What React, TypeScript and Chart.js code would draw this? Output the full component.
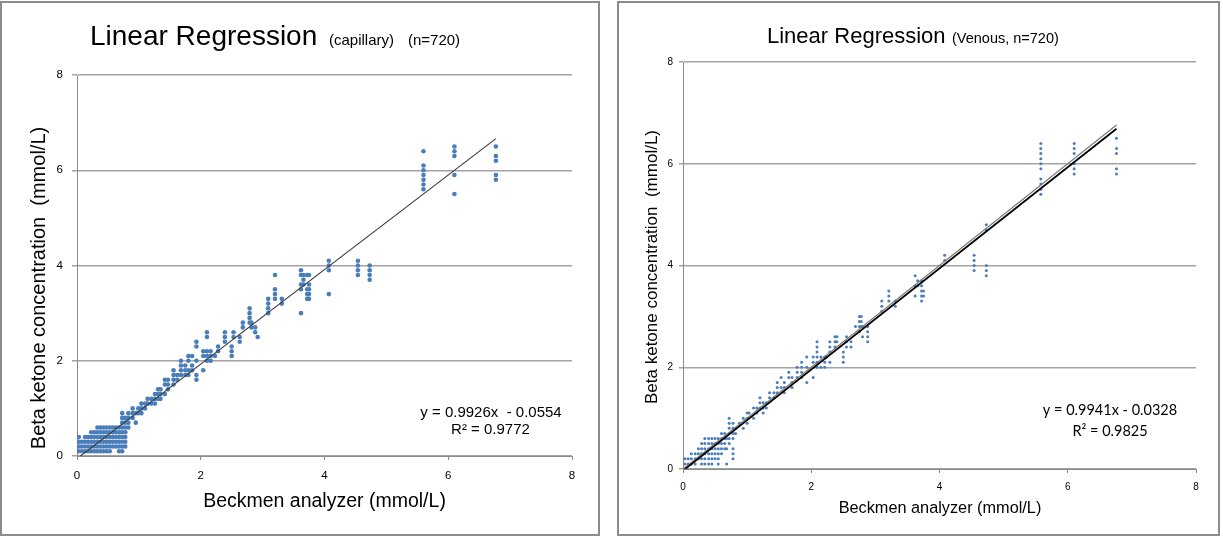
import React, { useEffect, useRef } from 'react';
import { Chart, registerables } from 'chart.js';

Chart.register(...registerables);

// ---------- Capillary panel data ----------
const capillaryX = [
  0.03, 0.08, 0.13, 0.18, 0.23, 0.28, 0.33, 0.38, 0.43, 0.48, 0.53, 0.58, 0.63, 0.68, 0.73, 0.78,
  0.83, 0.9, 0.95, 0.99, 1.04, 1.1, 1.14, 1.2, 1.26, 1.31, 1.35, 1.42, 1.47, 1.56, 1.62, 1.68,
  1.75, 1.8, 1.86, 1.93, 2.04, 2.1, 2.16, 2.23, 2.28, 2.39, 2.5, 2.53, 2.63, 2.68, 2.79, 2.82,
  2.88, 2.92, 3.09, 3.2, 3.31, 3.62, 3.66, 3.72, 3.75, 4.07, 4.54, 4.73, 5.6, 6.1, 6.77,
];
const capillaryY = [
  [0.4, 0.3, 0.2, 0.1], [0.3, 0.2, 0.1], [0.4, 0.3, 0.2, 0.1], [0.4, 0.3, 0.2, 0.1],
  [0.5, 0.4, 0.3, 0.2, 0.1], [0.5, 0.4, 0.3, 0.2, 0.1], [0.6, 0.5, 0.4, 0.3, 0.2, 0.1],
  [0.6, 0.5, 0.4, 0.3, 0.2, 0.1], [0.6, 0.5, 0.4, 0.3, 0.2, 0.1], [0.6, 0.5, 0.4, 0.3, 0.2, 0.1],
  [0.6, 0.5, 0.4, 0.3, 0.2, 0.1], [0.6, 0.5, 0.4, 0.3, 0.2], [0.6, 0.5, 0.4, 0.3, 0.2],
  [0.6, 0.5, 0.4, 0.3, 0.2, 0.1], [0.9, 0.8, 0.7, 0.6, 0.5, 0.4, 0.3, 0.2, 0.1],
  [0.8, 0.7, 0.6, 0.5, 0.4, 0.3, 0.2],
  [0.9, 0.8, 0.7, 0.6], [1.0, 0.9, 0.8], [0.9, 0.7], [1.0, 0.9], [1.1, 1.0, 0.9], [1.1, 1.0],
  [1.2, 1.1], [1.2, 1.1], [1.3, 1.2, 1.1], [1.4, 1.3, 1.2], [1.4, 1.3, 1.2], [1.6, 1.5, 1.3],
  [1.6, 1.5, 1.4], [1.8, 1.7, 1.6, 1.5], [1.7, 1.6], [2.0, 1.9, 1.8, 1.7],
  [1.9, 1.8, 1.7], [2.1, 2.0, 1.8, 1.7], [2.1, 1.9, 1.8], [2.4, 2.3, 2.0, 1.7, 1.6],
  [2.2, 2.1, 1.8], [2.6, 2.5, 2.2, 2.1, 2.0], [2.2, 2.1, 2.0], [2.1], [2.3, 2.2],
  [2.6, 2.5, 2.4], [2.3, 2.2, 2.1], [2.6, 2.5], [2.5, 2.4], [2.8, 2.7], [3.1, 3.0, 2.9, 2.8],
  [2.8, 2.7], [2.7, 2.6], [2.5], [3.3, 3.2, 3.1, 3.0], [3.8, 3.5, 3.4, 3.3], [3.3, 3.2],
  [3.9, 3.8, 3.6, 3.5, 3.0], [3.8, 3.7, 3.6], [3.8, 3.5, 3.4, 3.3], [3.8, 3.6, 3.5, 3.4, 3.3],
  [4.1, 4.0, 3.9, 3.4], [4.1, 4.0, 3.9, 3.8], [4.0, 3.9, 3.8, 3.7],
  [6.4, 6.1, 6.0, 5.9, 5.8, 5.7, 5.6], [6.5, 6.4, 6.3, 5.9, 5.5], [6.5, 6.3, 6.2, 5.9, 5.8],
];
const capillarySlope = 0.9926;
const capillaryIntercept = -0.0554;

// ---------- Venous panel data ----------
const venousX = [
  0.03, 0.08, 0.13, 0.19, 0.24, 0.29, 0.34, 0.4, 0.45, 0.5, 0.55, 0.6, 0.65, 0.68, 0.72, 0.78,
  0.82, 0.88, 0.94, 1.0, 1.03, 1.1, 1.15, 1.2, 1.25, 1.3, 1.35, 1.42, 1.47, 1.53, 1.58, 1.65,
  1.7, 1.78, 1.85, 1.93, 2.03, 2.09, 2.15, 2.21, 2.24, 2.29, 2.37, 2.4, 2.5, 2.55, 2.62, 2.69,
  2.75, 2.78, 2.8, 2.88, 3.1, 3.21, 3.31, 3.62, 3.66, 3.72, 3.75, 4.08, 4.54, 4.73, 5.58, 6.1, 6.76,
];
const venousY = [
  [0.2, 0.1], [0.2, 0.1], [0.3, 0.2, 0.1], [0.3, 0.2, 0.1], [0.4, 0.3, 0.2],
  [0.5, 0.4, 0.3, 0.2, 0.1], [0.6, 0.5, 0.4, 0.3, 0.2, 0.1], [0.6, 0.5, 0.4, 0.3, 0.2, 0.1],
  [0.6, 0.5, 0.4, 0.3, 0.2, 0.1], [0.6, 0.5, 0.4, 0.3, 0.2], [0.6, 0.5, 0.4, 0.3, 0.2, 0.1],
  [0.7, 0.6, 0.5, 0.4, 0.3], [0.7, 0.6, 0.5, 0.4], [0.6, 0.4, 0.1],
  [1.0, 0.9, 0.8, 0.7, 0.6, 0.5], [0.9, 0.8, 0.7, 0.6, 0.4, 0.3, 0.2],
  [0.8, 0.7], [0.9], [1.0, 0.8], [1.1, 1.0, 0.9], [1.1], [1.2, 1.0], [1.2, 1.1],
  [1.4, 1.3, 1.2], [1.3, 1.2, 1.1], [1.3, 1.2], [1.5, 1.4], [1.5, 1.4], [1.7, 1.6, 1.5],
  [1.8, 1.6], [1.7, 1.6, 1.5], [1.9, 1.8], [1.8, 1.7, 1.6], [2.0, 1.9, 1.8],
  [2.1, 2.0, 1.9, 1.8], [2.2, 2.0, 1.7], [2.2, 2.1, 1.8], [2.5, 2.4, 2.3, 2.2, 2.1, 2.0],
  [2.2, 2.0], [2.2, 2.1, 2.0], [2.2], [2.5, 2.4, 2.3, 2.1], [2.6, 2.5, 2.4], [2.6, 2.5],
  [2.3, 2.2, 2.1], [2.6, 2.5, 2.4], [2.5, 2.4], [2.8], [3.0, 2.9, 2.8, 2.7], [3.0, 2.9, 2.8],
  [2.8, 2.6], [2.8, 2.7, 2.6, 2.5], [3.3, 3.2, 3.1], [3.5, 3.4, 3.3], [3.3, 3.2],
  [3.8, 3.6, 3.4], [3.7, 3.6], [3.7, 3.6, 3.5, 3.4, 3.3], [3.5, 3.4], [4.2, 4.1],
  [4.2, 4.1, 4.0, 3.9], [4.8, 4.7, 4.0, 3.9, 3.8],
  [6.4, 6.3, 6.2, 6.1, 6.0, 5.9, 5.7, 5.6, 5.5, 5.4], [6.4, 6.3, 6.2, 6.0, 5.9, 5.8],
  [6.5, 6.3, 6.2, 5.9, 5.8],
];
const venousSlope = 0.9941;
const venousIntercept = -0.0328;

const axisMin = 0;
const axisMax = 8;
const axisStep = 2;

const ARIAL = '"Liberation Sans", Arial, sans-serif';
const CALIBRI = 'Lato, "Open Sans", sans-serif';

type TextItem = { text: string; x: number; y: number; font: string; align?: CanvasTextAlign; rotate?: number };

function buildPoints(xs: number[], ys: number[][]) {
  const pts: { x: number; y: number }[] = [];
  xs.forEach((x, i) => ys[i].forEach((y) => pts.push({ x, y })));
  return pts;
}

function trendLine(xs: number[], slope: number, intercept: number) {
  const x0 = Math.min(...xs);
  const x1 = Math.max(...xs);
  return [
    { x: x0, y: slope * x0 + intercept },
    { x: x1, y: slope * x1 + intercept },
  ];
}

function textPlugin(items: TextItem[], offsetX: number) {
  return {
    id: 'panelText',
    afterDraw(chart: any) {
      const ctx = chart.ctx as CanvasRenderingContext2D;
      for (const t of items) {
        ctx.save();
        ctx.font = t.font;
        ctx.fillStyle = '#000';
        ctx.textAlign = t.align || 'left';
        ctx.textBaseline = 'alphabetic';
        ctx.translate(t.x - offsetX, t.y);
        if (t.rotate) ctx.rotate(t.rotate);
        ctx.fillText(t.text, 0, 0);
        ctx.restore();
      }
    },
  };
}

type PanelOpts = {
  points: { x: number; y: number }[];
  lines: any[];
  pointRadius: number;
  tickFont: number;
  yPad: number;
  yTick: number;
  xPad: number;
  yAxisWidth: number;
  xAxisHeight: number;
  padTop: number;
  padRight: number;
  texts: TextItem[];
  offsetX: number;
};

function makeConfig(o: PanelOpts): any {
  return {
    type: 'scatter',
    data: {
      datasets: [
        {
          data: o.points,
          pointRadius: o.pointRadius,
          pointHoverRadius: o.pointRadius,
          backgroundColor: '#4a7ebb',
          borderWidth: 0,
          order: 5,
        },
        ...o.lines,
      ],
    },
    options: {
      responsive: false,
      animation: false,
      events: [],
      layout: { padding: { left: 0, top: o.padTop, right: o.padRight, bottom: 0 } },
      plugins: { legend: { display: false }, tooltip: { enabled: false }, title: { display: false } },
      scales: {
        x: {
          type: 'linear',
          min: axisMin,
          max: axisMax,
          ticks: { stepSize: axisStep, color: '#000', padding: o.xPad, font: { family: ARIAL, size: o.tickFont } },
          grid: { drawOnChartArea: false, drawTicks: true, tickLength: 4, color: '#8a8a8a', lineWidth: 1 },
          border: { color: '#8a8a8a', width: 1 },
          afterFit(scale: any) {
            scale.height = o.xAxisHeight;
          },
        },
        y: {
          type: 'linear',
          min: axisMin,
          max: axisMax,
          ticks: { stepSize: axisStep, color: '#000', padding: o.yPad, font: { family: ARIAL, size: o.tickFont } },
          grid: { drawTicks: true, tickLength: o.yTick, color: '#a3a3a3', lineWidth: 1.5 },
          border: { color: '#8a8a8a', width: 1 },
          afterFit(scale: any) {
            scale.width = o.yAxisWidth;
          },
        },
      },
    },
    plugins: [textPlugin(o.texts, o.offsetX)],
  };
}

function Panel({ width, left, config }: { width: number; left: number; config: () => any }) {
  const ref = useRef<HTMLCanvasElement | null>(null);
  useEffect(() => {
    if (!ref.current) return;
    const chart = new Chart(ref.current, config());
    return () => chart.destroy();
  }, []);
  return (
    <canvas
      ref={ref}
      width={width}
      height={539}
      style={{ position: 'absolute', left, top: 0, width, height: 539 }}
    />
  );
}

const capillaryConfig = () =>
  makeConfig({
    points: buildPoints(capillaryX, capillaryY),
    lines: [
      {
        type: 'line',
        data: trendLine(capillaryX, capillarySlope, capillaryIntercept),
        borderColor: '#3a3a3a',
        borderWidth: 1.1,
        pointRadius: 0,
        fill: false,
        order: 1,
      },
    ],
    pointRadius: 2.3,
    tickFont: 11.5,
    yPad: 9,
    yTick: 5,
    xPad: 9,
    yAxisWidth: 77,
    xAxisHeight: 83,
    padTop: 75,
    padRight: 34,
    offsetX: 0,
    texts: [
      { text: 'Linear Regression', x: 90, y: 45, font: `28px ${ARIAL}` },
      { text: '(capillary)', x: 329, y: 45, font: `15px ${ARIAL}` },
      { text: '(n=720)', x: 408, y: 45, font: `15px ${ARIAL}` },
      { text: 'Beckmen analyzer (mmol/L)', x: 324.5, y: 507, font: `19.5px ${ARIAL}`, align: 'center' },
      {
        text: 'Beta ketone concentration  (mmol/L)',
        x: 45,
        y: 288,
        font: `20px ${ARIAL}`,
        align: 'center',
        rotate: -Math.PI / 2,
      },
      { text: 'y = 0.9926x  - 0.0554', x: 491, y: 417, font: `15px ${ARIAL}`, align: 'center' },
      { text: 'R² = 0.9772', x: 490.5, y: 434, font: `15px ${ARIAL}`, align: 'center' },
    ],
  });

const venousConfig = () => {
  const xmax = Math.max(...venousX);
  return makeConfig({
    points: buildPoints(venousX, venousY),
    lines: [
      {
        type: 'line',
        data: trendLine(venousX, venousSlope, venousIntercept),
        borderColor: '#000',
        borderWidth: 1.8,
        pointRadius: 0,
        fill: false,
        order: 0,
      },
      {
        type: 'line',
        data: [
          { x: axisMin, y: axisMin },
          { x: xmax, y: xmax },
        ],
        borderColor: '#7a7a7a',
        borderWidth: 1.2,
        pointRadius: 0,
        fill: false,
        order: 1,
      },
    ],
    pointRadius: 1.5,
    tickFont: 10,
    yPad: 6,
    yTick: 4,
    xPad: 8,
    yAxisWidth: 77,
    xAxisHeight: 70,
    padTop: 62,
    padRight: 27,
    offsetX: 606,
    texts: [
      { text: 'Linear Regression', x: 767, y: 43, font: `22px ${ARIAL}` },
      { text: '(Venous, n=720)', x: 952, y: 43, font: `14.5px ${ARIAL}` },
      { text: 'Beckmen analyzer (mmol/L)', x: 940, y: 513, font: `16.3px ${ARIAL}`, align: 'center' },
      {
        text: 'Beta ketone concentration  (mmol/L)',
        x: 657,
        y: 267,
        font: `17px ${ARIAL}`,
        align: 'center',
        rotate: -Math.PI / 2,
      },
      { text: 'y = 0.9941x - 0.0328', x: 1110, y: 415, font: `14.5px ${CALIBRI}`, align: 'center' },
      { text: 'R² = 0.9825', x: 1110, y: 436, font: `14.5px ${CALIBRI}`, align: 'center' },
    ],
  });
};

export default function App() {
  const border = '2px solid #8c8c8c';
  return (
    <div style={{ position: 'fixed', left: 0, top: 0, width: 1223, height: 539, background: '#fff', overflow: 'hidden' }}>
      <Panel width={606} left={0} config={capillaryConfig} />
      <Panel width={617} left={606} config={venousConfig} />
      <div
        style={{
          position: 'absolute',
          left: 0,
          top: 1,
          width: 600,
          height: 535,
          border,
          boxSizing: 'border-box',
          pointerEvents: 'none',
        }}
      />
      <div
        style={{
          position: 'absolute',
          left: 617,
          top: 1,
          width: 603,
          height: 535,
          border,
          boxSizing: 'border-box',
          pointerEvents: 'none',
        }}
      />
    </div>
  );
}
